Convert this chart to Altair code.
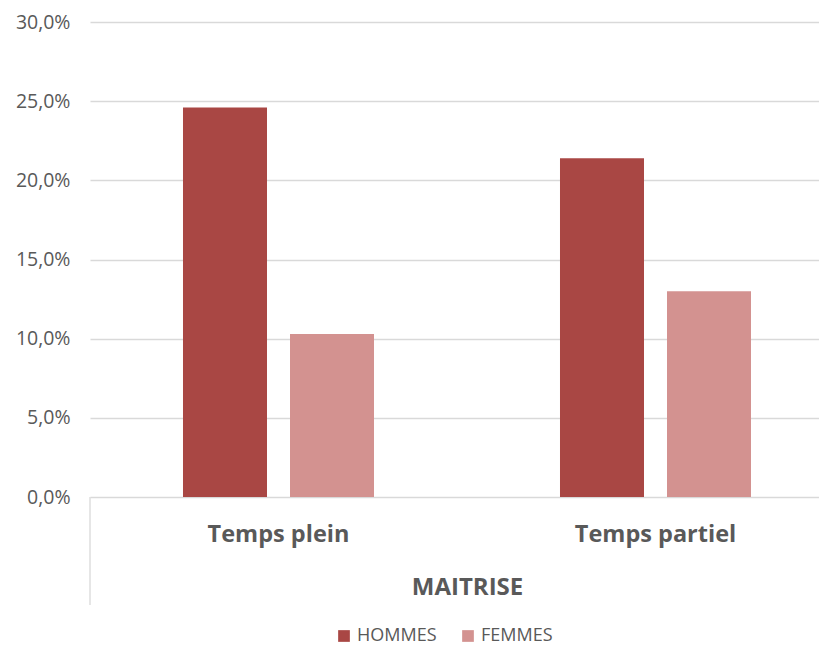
import altair as alt
import pandas as pd

categories = ["Temps plein", "Temps partiel"]
series = ["HOMMES", "FEMMES"]
hommes = [0.246, 0.214]
femmes = [0.103, 0.130]
y_ticks = [0.0, 0.05, 0.10, 0.15, 0.20, 0.25, 0.30]
colors = ["#A94744", "#D39290"]

rows = []
for i, c in enumerate(categories):
    rows.append({"cat": c, "sexe": "HOMMES", "val": hommes[i]})
    rows.append({"cat": c, "sexe": "FEMMES", "val": femmes[i]})
df = pd.DataFrame(rows)

grey = "#595959"
font = "Open Sans"

bars = alt.Chart(df).mark_bar().encode(
    x=alt.X(
        "cat:N",
        sort=categories,
        scale=alt.Scale(range=[0, 754], paddingInner=0, paddingOuter=0),
        axis=alt.Axis(
            title="MAITRISE",
            labelAngle=0,
            domain=False,
            ticks=False,
            labelFont=font,
            labelFontSize=23.5,
            labelFontWeight="bold",
            labelColor=grey,
            labelPadding=25,
            titleFont=font,
            titleFontSize=24,
            titleFontWeight="bold",
            titleColor=grey,
            titlePadding=30,
        ),
    ),
    xOffset=alt.XOffset(
        "sexe:N",
        sort=series,
        scale=alt.Scale(paddingInner=0.215, paddingOuter=0.869),
    ),
    y=alt.Y(
        "val:Q",
        scale=alt.Scale(domain=[0, 0.3], nice=False),
        axis=alt.Axis(
            title=None,
            values=y_ticks,
            labelExpr="replace(format(datum.value, '.1%'), '.', ',')",
            domain=False,
            ticks=False,
            grid=True,
            gridColor="#d9d9d9",
            gridWidth=1.3,
            labelFont=font,
            labelFontSize=19.5,
            labelColor=grey,
            labelPadding=20,
        ),
    ),
    color=alt.Color(
        "sexe:N",
        sort=series,
        scale=alt.Scale(domain=series, range=colors),
        legend=alt.Legend(
            title=None,
            orient="none",
            legendX=245,
            legendY=605,
            direction="horizontal",
            symbolType="square",
            symbolSize=137,
            symbolStrokeWidth=0,
            labelFont=font,
            labelFontSize=18,
            labelColor=grey,
            labelOffset=4,
            columnPadding=22,
        ),
    ),
)

divider = alt.Chart(pd.DataFrame({"a": [0]})).mark_rule(color="#d9d9d9", strokeWidth=1.3).encode(
    x=alt.value(0), y=alt.value(475), y2=alt.value(583)
)

chart = alt.layer(bars, divider).properties(
    width=729,
    height=475,
    padding={"left": 82, "top": 14, "right": 0, "bottom": 152},
    autosize=alt.AutoSizeParams(type="none"),
).configure_view(stroke=None)

chart.save("out.html", embed_options={"renderer": "svg", "actions": False})
